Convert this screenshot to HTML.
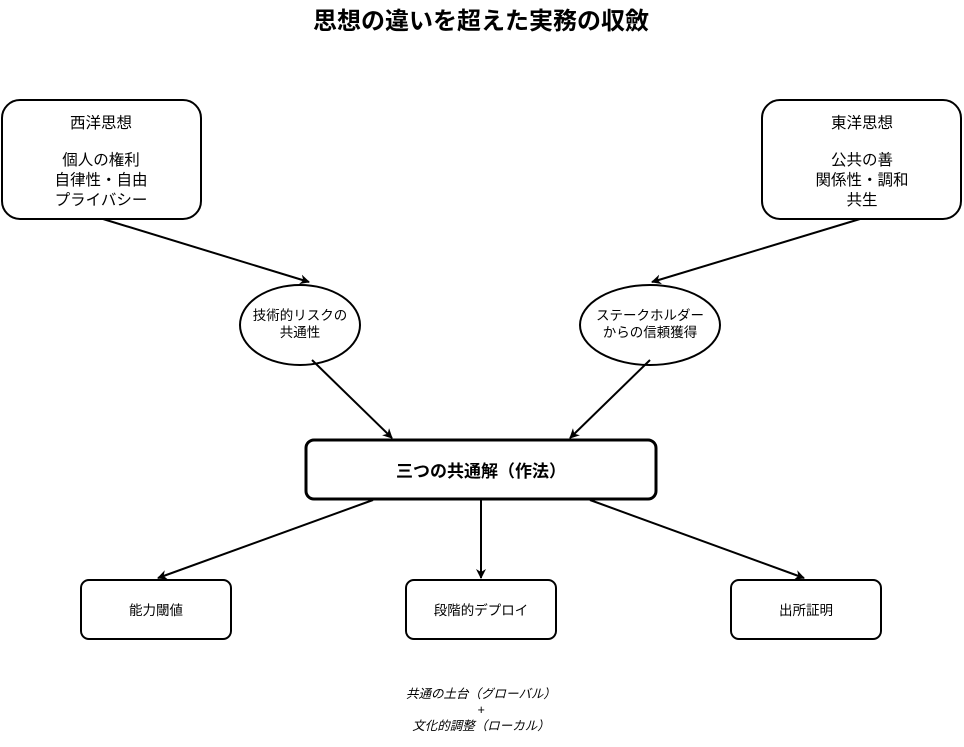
<!DOCTYPE html>
<html><head><meta charset="utf-8"><style>
html,body{margin:0;padding:0;background:#fff;}
svg text{font-family:"Liberation Sans","Noto Sans CJK JP",sans-serif;fill:#000;}
</style></head><body>
<svg width="964" height="742" viewBox="0 0 964 742" xmlns="http://www.w3.org/2000/svg">
<defs><marker id="a" markerWidth="10" markerHeight="10" refX="9" refY="5" orient="auto" markerUnits="userSpaceOnUse"><path d="M0,0 L10,5 L0,10 L3,5 Z" fill="#000"/></marker></defs>
<text x="481" y="29" font-size="24" font-weight="bold" text-anchor="middle">思想の違いを超えた実務の収斂</text>
<g fill="#fff" stroke="#000" stroke-width="2">
<rect x="2" y="100" width="199" height="119" rx="18"/>
<rect x="762" y="100" width="199" height="119" rx="18"/>
<ellipse cx="300" cy="325" rx="60" ry="40"/>
<ellipse cx="650" cy="325" rx="70" ry="40"/>
<rect x="306" y="440" width="350" height="59" rx="8" stroke-width="3"/>
<rect x="81" y="580" width="150" height="59" rx="8"/>
<rect x="406" y="580" width="150" height="59" rx="8"/>
<rect x="731" y="580" width="150" height="59" rx="8"/>
</g>
<g stroke="#000" stroke-width="2" marker-end="url(#a)">
<line x1="103" y1="219" x2="309" y2="282"/>
<line x1="860" y1="219" x2="652" y2="282"/>
<line x1="312" y1="360" x2="392" y2="438"/>
<line x1="650" y1="360" x2="570" y2="438"/>
<line x1="373" y1="500" x2="158" y2="578"/>
<line x1="481" y1="500" x2="481" y2="578"/>
<line x1="590" y1="500" x2="804" y2="578"/>
</g>
<g font-size="15.5" text-anchor="middle">
<text x="101" y="128">西洋思想</text>
<text x="101" y="165">個人の権利</text>
<text x="101" y="185">自律性・自由</text>
<text x="101" y="205">プライバシー</text>
<text x="862" y="128">東洋思想</text>
<text x="862" y="165">公共の善</text>
<text x="862" y="185">関係性・調和</text>
<text x="862" y="205">共生</text>
</g>
<g font-size="13.5" text-anchor="middle">
<text x="300" y="320">技術的リスクの</text>
<text x="300" y="337">共通性</text>
<text x="650" y="320">ステークホルダー</text>
<text x="650" y="337">からの信頼獲得</text>
<text x="156" y="615">能力閾値</text>
<text x="481" y="615">段階的デプロイ</text>
<text x="806" y="615">出所証明</text>
</g>
<text x="481" y="477" font-size="17" font-weight="bold" text-anchor="middle">三つの共通解（作法）</text>
<g font-size="12.5" font-style="italic" text-anchor="middle">
<text x="481" y="698">共通の土台（グローバル）</text>
<text x="481" y="714">+</text>
<text x="481" y="730">文化的調整（ローカル）</text>
</g>
</svg>
</body></html>
